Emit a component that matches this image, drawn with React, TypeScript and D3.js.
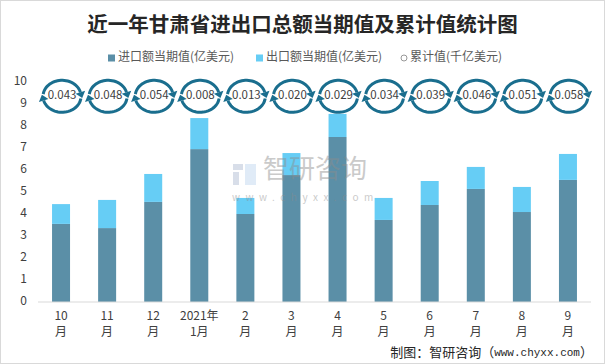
import React from "react";
import * as d3 from "d3";

// chart values
const tickTop = ["10", "11", "12", "2021年", "2", "3", "4", "5", "6", "7", "8", "9"];
const tickBottom = ["月", "月", "月", "1月", "月", "月", "月", "月", "月", "月", "月", "月"];
const importValues = [3.55, 3.36, 4.55, 6.95, 4.0, 5.77, 7.5, 3.73, 4.41, 5.14, 4.09, 5.55];
const exportValues = [0.9, 1.28, 1.27, 1.41, 0.73, 1.0, 1.05, 1.0, 1.09, 1.0, 1.14, 1.18];
const cumulativeValues = [0.043, 0.048, 0.054, 0.008, 0.013, 0.02, 0.029, 0.034, 0.039, 0.046, 0.051, 0.058];
const yTicks = [0, 1, 2, 3, 4, 5, 6, 7, 8, 9, 10];
const legendLabels = ["进口额当期值(亿美元)", "出口额当期值(亿美元)", "累计值(千亿美元)"];

const width = 605;
const height = 364;
const margin = { left: 38, right: 14, top: 82, bottom: 62 };
const markerLevel = 9.35; // where the cumulative circles sit
const barWidth = 18;
const importColor = "#5B8FA7";
const exportColor = "#66CDF5";
const ringColor = "#1A6E8E";
const font = "'Noto Sans CJK SC', 'Noto Sans', sans-serif";

const RX = 19;
const RY = 16;

// refresh-like ring: two elliptical arcs, each ending in an arrow head
function ringPath(cx: number, cy: number, from: number, to: number) {
  const steps = d3.range(0, 31).map((i) => from + ((to - from) * i) / 30);
  const pts = steps.map((t) => [cx + RX * Math.cos(t), cy + RY * Math.sin(t)] as [number, number]);
  return d3.line()(pts) || "";
}

function arrowHead(cx: number, cy: number, t: number) {
  const px = cx + RX * Math.cos(t);
  const py = cy + RY * Math.sin(t);
  let dx = -RX * Math.sin(t);
  let dy = RY * Math.cos(t);
  const len = Math.hypot(dx, dy);
  dx /= len;
  dy /= len;
  const nx = -dy;
  const ny = dx;
  const tip = [px + dx * 6, py + dy * 6];
  const a = [px + nx * 5, py + ny * 5];
  const b = [px - nx * 5, py - ny * 5];
  return `M${a[0]},${a[1]}L${tip[0]},${tip[1]}L${b[0]},${b[1]}Z`;
}

const App = () => {
  const cats = tickTop.map((d, i) => d + tickBottom[i]);
  const x = d3.scaleBand().domain(cats).range([margin.left, width - margin.right]).padding(0);
  const y = d3.scaleLinear().domain([0, 10]).range([height - margin.bottom, margin.top]);

  const rows = cats.map((c, i) => ({ cat: c, imp: importValues[i], exp: exportValues[i] }));
  const series = d3.stack<any>().keys(["imp", "exp"])(rows);
  const colors = [importColor, exportColor];
  const fmt = d3.format(".3f");
  const deg = Math.PI / 180;

  return (
    <svg
      width={width}
      height={height}
      style={{ position: "absolute", left: 0, top: 0, background: "#fff" }}
      fontFamily={font}
    >
      <rect x={0.5} y={0.5} width={width - 1} height={height - 1} fill="#fff" stroke="#D9D9D9" />

      <text x={width / 2} y={26} textAnchor="middle" dominantBaseline="middle" fontSize={20.5} fontWeight="bold" fill="#262626">
        近一年甘肃省进出口总额当期值及累计值统计图
      </text>

      {/* legend */}
      <g fontSize={12} fill="#595959">
        <rect x={108} y={54.5} width={7} height={7} fill={importColor} />
        <text x={118} y={58} dominantBaseline="middle">{legendLabels[0]}</text>
        <rect x={256} y={54.5} width={7} height={7} fill={exportColor} />
        <text x={266} y={58} dominantBaseline="middle">{legendLabels[1]}</text>
        <circle cx={404} cy={58} r={3} fill="#fff" stroke="#7F7F7F" strokeWidth={0.8} />
        <text x={410} y={58} dominantBaseline="middle">{legendLabels[2]}</text>
      </g>

      {/* y axis labels */}
      <g fontSize={12} fill="#404040">
        {yTicks.map((t) => (
          <text key={t} x={27} y={y(t)} textAnchor="end" dominantBaseline="middle">
            {t}
          </text>
        ))}
      </g>

      {/* stacked bars */}
      {series.map((s, si) => (
        <g key={s.key} fill={colors[si]}>
          {s.map((d, i) => (
            <rect
              key={i}
              x={(x(cats[i]) as number) + (x.bandwidth() - barWidth) / 2}
              y={y(d[1])}
              width={barWidth}
              height={y(d[0]) - y(d[1])}
            />
          ))}
        </g>
      ))}

      {/* watermark, drawn over the bars */}
      <g opacity={0.45}>
        <rect x={233} y={164} width={10} height={6} fill="#A9B7CF" />
        <rect x={233} y={172} width={6} height={13} fill="#A9B7CF" />
        <rect x={245} y={164} width={11} height={21} fill="#BCD4EE" />
        <text x={263} y={171} fontSize={26} fill="#8C8C8C" dominantBaseline="middle">智研咨询</text>
        <text x={232} y={198} fontSize={10} fill="#8C8C8C" letterSpacing={5.5} dominantBaseline="middle">www.chyxx.com</text>
      </g>

      <line x1={margin.left} x2={width - margin.right} y1={y(0)} y2={y(0)} stroke="#D9D9D9" strokeWidth={1} />

      {/* x labels */}
      <g fontSize={12} fill="#404040" textAnchor="middle">
        {cats.map((c, i) => {
          const cx = (x(c) as number) + x.bandwidth() / 2;
          return (
            <g key={c}>
              <text x={cx} y={317} dominantBaseline="middle">{tickTop[i]}</text>
              <text x={cx} y={333} dominantBaseline="middle">{tickBottom[i]}</text>
            </g>
          );
        })}
      </g>

      {/* cumulative rings */}
      {cumulativeValues.map((v, i) => {
        const cx = (x(cats[i]) as number) + x.bandwidth() / 2 + 1;
        const cy = y(markerLevel);
        return (
          <g key={i}>
            <path d={ringPath(cx, cy, 188 * deg, 345 * deg)} fill="none" stroke={ringColor} strokeWidth={3} />
            <path d={arrowHead(cx, cy, 345 * deg)} fill={ringColor} />
            <path d={ringPath(cx, cy, 8 * deg, 165 * deg)} fill="none" stroke={ringColor} strokeWidth={3} />
            <path d={arrowHead(cx, cy, 165 * deg)} fill={ringColor} />
            <text x={cx} y={cy} textAnchor="middle" dominantBaseline="middle" fontSize={11.5} fill="#404040">
              {fmt(v)}
            </text>
          </g>
        );
      })}

      <text x={593} y={353} textAnchor="end" dominantBaseline="middle" fontSize={13} fill="#262626">
        制图：智研咨询（
        <tspan fontFamily="'Liberation Mono', monospace" fontSize={11}>www.chyxx.com</tspan>
        ）
      </text>
    </svg>
  );
};

export default App;
